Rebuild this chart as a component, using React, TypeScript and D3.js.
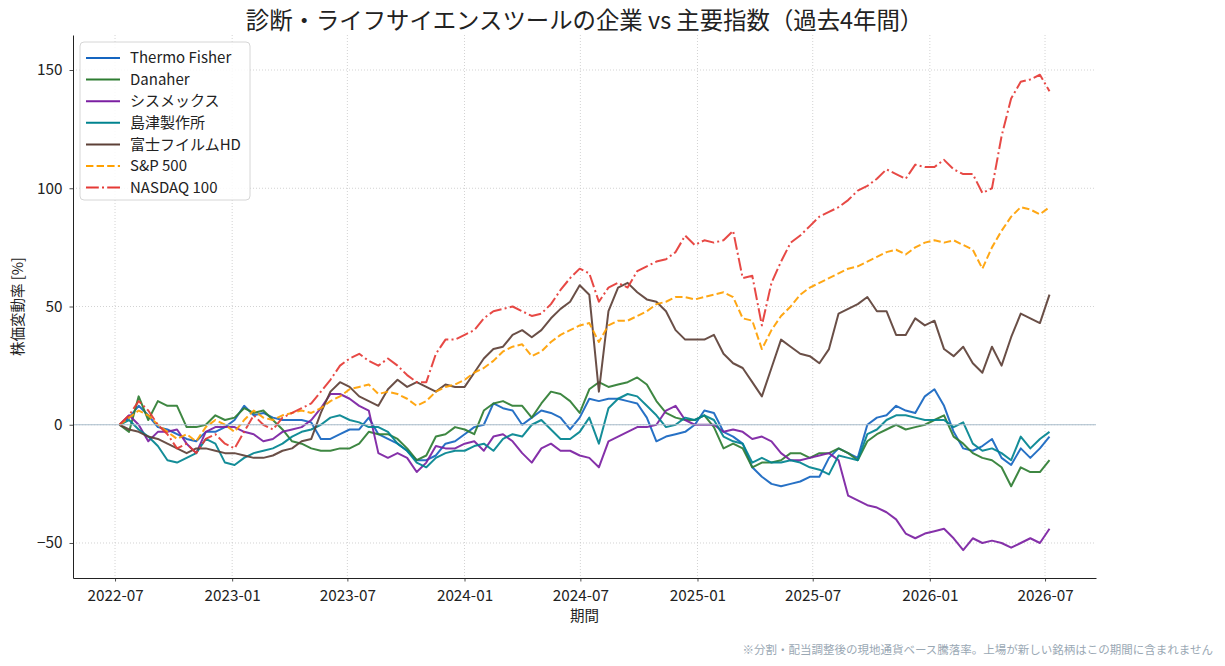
import React, { useEffect, useRef } from 'react';
import * as d3 from 'd3';

// sampled about every 15 days, 2022-07-08 .. 2026-07-08 (98 points)
const startDate = new Date(2022, 6, 8);
const endDate = new Date(2026, 6, 8);

const thermo = [0, 3, 8, 4, -1, -2, -4, -6, -7, -3, -3, -1, 2, 8, 4, 5, 3, 2, 2, 2, 1, -6, -6, -4, -2, -2, 3, -4, -6, -8, -11, -15, -15, -13, -8, -7, -4, -1, 0, 9, 7, 6, 0, 3, 6, 5, 3, -2, 3, 11, 10, 11, 11, 10, 9, 3, -7, -5, -4, -3, 0, 6, 5, -3, -5, -8, -18, -22, -25, -26, -25, -24, -22, -22, -14, -10, -12, -14, 0, 3, 4, 8, 6, 5, 12, 15, 8, -3, -10, -11, -9, -6, -14, -17, -10, -14, -10, -5];
const danaher = [0, -3, 12, 2, 10, 8, 8, -1, -1, 0, 4, 2, 3, 7, 5, 6, 2, -2, -7, -8, -10, -11, -11, -10, -10, -8, -3, -4, -4, -6, -10, -15, -13, -5, -4, -1, -2, -4, 6, 9, 10, 8, 8, 3, 9, 14, 13, 10, 5, 15, 18, 16, 17, 18, 20, 17, 10, 5, 3, 2, 2, 4, -1, -10, -8, -10, -18, -16, -16, -15, -12, -12, -14, -12, -12, -10, -12, -15, -7, -4, -2, 0, -2, -1, 0, 2, 4, -5, -8, -12, -14, -15, -18, -26, -18, -20, -20, -15];
const sysmex = [0, 4, 0, -7, -3, -3, -2, -8, -12, -3, -1, -1, -1, -3, -4, -7, -6, -3, -2, -1, 2, 7, 13, 13, 11, 8, 6, -12, -14, -12, -14, -20, -16, -9, -10, -10, -8, -7, -11, -5, -4, -7, -12, -16, -10, -8, -11, -11, -13, -14, -18, -7, -5, -3, -1, -1, 0, 6, 8, 2, 0, 0, 0, -3, -2, -3, -6, -5, -7, -12, -15, -15, -14, -13, -12, -15, -30, -32, -34, -35, -37, -40, -46, -48, -46, -45, -44, -48, -53, -48, -50, -49, -50, -52, -50, -48, -50, -44];
const shimadzu = [0, 2, -2, -5, -9, -15, -16, -14, -12, -6, -8, -16, -17, -14, -12, -11, -10, -8, -5, -3, -2, 0, 3, 4, 2, 1, -1, -1, -3, -8, -11, -16, -18, -14, -12, -11, -11, -9, -8, -11, -6, -4, -5, 0, 2, -2, -6, -6, -3, 3, -8, 7, 11, 13, 12, 8, 4, -1, 0, 3, 2, 4, 2, -5, -7, -8, -16, -14, -16, -16, -15, -16, -18, -19, -21, -13, -14, -15, -4, -2, 2, 4, 4, 3, 2, 2, 2, -1, 1, -8, -11, -10, -12, -15, -5, -10, -6, -3];
const fujifilm = [0, -2, -3, -5, -6, -8, -10, -12, -10, -10, -11, -12, -12, -13, -14, -14, -13, -11, -10, -7, -6, 5, 14, 18, 16, 12, 10, 8, 15, 19, 16, 18, 16, 14, 17, 16, 16, 22, 28, 32, 33, 38, 40, 37, 40, 45, 49, 52, 59, 55, 14, 48, 58, 60, 56, 53, 52, 48, 40, 36, 36, 36, 38, 30, 26, 24, 18, 12, 24, 36, 33, 30, 29, 26, 32, 47, 49, 51, 54, 48, 48, 38, 38, 45, 42, 44, 32, 29, 33, 26, 22, 33, 25, 37, 47, 45, 43, 55];
const sp500 = [0, 3, 6, 4, 0, -3, -6, -4, -7, -1, 2, 0, -3, 2, 6, 3, 2, 4, 5, 6, 5, 7, 10, 12, 15, 16, 17, 13, 14, 13, 11, 8, 10, 14, 16, 17, 19, 22, 24, 27, 31, 33, 34, 29, 31, 35, 38, 40, 42, 43, 35, 42, 44, 44, 46, 48, 51, 52, 54, 54, 53, 54, 55, 56, 54, 45, 44, 32, 40, 46, 50, 55, 58, 60, 62, 64, 66, 67, 69, 71, 73, 74, 72, 75, 77, 78, 77, 78, 76, 74, 66, 75, 82, 88, 92, 91, 89, 92];
const nasdaq = [0, 4, 10, 6, 0, -4, -10, -8, -12, -6, -4, -8, -10, -3, 4, 0, -2, 3, 5, 7, 9, 14, 19, 25, 28, 30, 27, 25, 28, 25, 21, 18, 18, 30, 36, 36, 38, 40, 45, 48, 49, 50, 48, 46, 47, 51, 57, 62, 66, 64, 52, 58, 60, 58, 65, 67, 69, 70, 73, 80, 76, 78, 77, 78, 82, 62, 63, 42, 60, 69, 77, 80, 84, 88, 90, 92, 95, 99, 101, 104, 108, 106, 104, 110, 109, 109, 112, 108, 106, 106, 98, 100, 122, 138, 145, 146, 148, 141];

const seriesNames = ['Thermo Fisher', 'Danaher', 'シスメックス', '島津製作所', '富士フイルムHD', 'S&P 500', 'NASDAQ 100'];
const seriesValues = [thermo, danaher, sysmex, shimadzu, fujifilm, sp500, nasdaq];
const seriesColors = ['#1565c0', '#2e7d32', '#7b1fa2', '#00838f', '#5d4037', '#ffa000', '#e53935'];
const seriesDash = [null, null, null, null, null, '7.4,3.2', '12.8,3.2,2,3.2'];

const yTicks = [-50, 0, 50, 100, 150];
const yLimits = [-64.8, 164.8];

const FONT = '"Noto Sans CJK JP", "Noto Sans", sans-serif';

function App() {
  const ref = useRef(null);

  useEffect(() => {
    document.body.style.margin = '0';
    const width = 1225, height = 666;
    const margin = { top: 35, right: 129, bottom: 88, left: 73 };

    const svg = d3.select(ref.current);
    svg.selectAll('*').remove();

    const n = thermo.length;
    const stepMs = (endDate.getTime() - startDate.getTime()) / (n - 1);
    const dates = d3.range(n).map(i => new Date(startDate.getTime() + i * stepMs));

    // matplotlib-like 5% padding
    const span = endDate.getTime() - startDate.getTime();
    const x = d3.scaleTime()
      .domain([new Date(startDate.getTime() - span * 0.05), new Date(endDate.getTime() + span * 0.05)])
      .range([margin.left, width - margin.right]);
    const y = d3.scaleLinear()
      .domain(yLimits)
      .range([height - margin.bottom, margin.top]);

    const xTicks = d3.timeMonth.every(6).range(new Date(2022, 6, 1), new Date(2026, 7, 1));

    // grid
    const grid = svg.append('g');
    grid.selectAll('.gx').data(xTicks).join('line')
      .attr('x1', d => x(d)).attr('x2', d => x(d))
      .attr('y1', margin.top).attr('y2', height - margin.bottom)
      .attr('stroke', '#c8c8c8').attr('stroke-width', 0.8).attr('stroke-dasharray', '1,2');
    grid.selectAll('.gy').data(yTicks).join('line')
      .attr('x1', margin.left).attr('x2', width - margin.right)
      .attr('y1', d => y(d)).attr('y2', d => y(d))
      .attr('stroke', '#c8c8c8').attr('stroke-width', 0.8).attr('stroke-dasharray', '1,2');

    const line = d3.line()
      .x((d, i) => x(dates[i]))
      .y(d => y(d));

    svg.append('g').selectAll('path')
      .data(seriesValues)
      .join('path')
        .attr('d', d => line(d))
        .attr('fill', 'none')
        .attr('stroke', (d, i) => seriesColors[i])
        .attr('stroke-width', 2)
        .attr('stroke-opacity', 0.92)
        .attr('stroke-linejoin', 'round')
        .attr('stroke-dasharray', (d, i) => seriesDash[i]);

    // zero line
    svg.append('line')
      .attr('x1', margin.left).attr('x2', width - margin.right)
      .attr('y1', y(0)).attr('y2', y(0))
      .attr('stroke', '#a9bccb').attr('stroke-width', 1.2);

    // axes
    const xAxis = svg.append('g')
      .attr('transform', `translate(0,${height - margin.bottom})`)
      .call(d3.axisBottom(x).tickValues(xTicks).tickFormat(d3.timeFormat('%Y-%m')).tickSize(3.5).tickSizeOuter(0).tickPadding(9));
    const yAxis = svg.append('g')
      .attr('transform', `translate(${margin.left},0)`)
      .call(d3.axisLeft(y).tickValues(yTicks).tickFormat(d => d < 0 ? '−' + Math.abs(d) : String(d)).tickSize(3.5).tickSizeOuter(0).tickPadding(7));
    [xAxis, yAxis].forEach(a => {
      a.selectAll('text').attr('font-family', FONT).attr('font-size', 15.3).attr('fill', '#222');
      a.selectAll('line').attr('stroke', '#222').attr('stroke-width', 0.8);
      a.select('.domain').attr('stroke', '#222').attr('stroke-width', 1);
    });

    // title and labels
    svg.append('text')
      .attr('x', (margin.left + width - margin.right) / 2).attr('y', 29)
      .attr('text-anchor', 'middle')
      .attr('font-family', FONT).attr('font-size', 23.4).attr('fill', '#222')
      .text('診断・ライフサイエンスツールの企業 vs 主要指数（過去4年間）');
    svg.append('text')
      .attr('x', (margin.left + width - margin.right) / 2).attr('y', 621)
      .attr('text-anchor', 'middle')
      .attr('font-family', FONT).attr('font-size', 14.5).attr('fill', '#222')
      .text('期間');
    svg.append('text')
      .attr('transform', `translate(18,${(margin.top + height - margin.bottom) / 2}) rotate(-90)`)
      .attr('text-anchor', 'middle').attr('dy', '0.35em')
      .attr('font-family', FONT).attr('font-size', 14.5).attr('fill', '#222')
      .text('株価変動率 [%]');
    svg.append('text')
      .attr('x', 1213).attr('y', 654)
      .attr('text-anchor', 'end')
      .attr('font-family', FONT).attr('font-size', 11.5).attr('fill', '#9aa8b4')
      .text('※分割・配当調整後の現地通貨ベース騰落率。上場が新しい銘柄はこの期間に含まれません');

    // legend
    const lg = svg.append('g').attr('transform', 'translate(80,42)');
    lg.append('rect')
      .attr('width', 170).attr('height', 158).attr('rx', 4)
      .attr('fill', 'white').attr('fill-opacity', 0.85)
      .attr('stroke', '#d6d6d6').attr('stroke-width', 1);
    const item = lg.selectAll('.item').data(seriesNames).join('g')
      .attr('transform', (d, i) => `translate(0,${16 + i * 21.6})`);
    item.append('line')
      .attr('x1', 6).attr('x2', 40)
      .attr('stroke', (d, i) => seriesColors[i]).attr('stroke-width', 2)
      .attr('stroke-dasharray', (d, i) => seriesDash[i]);
    item.append('text')
      .attr('x', 50).attr('dy', '0.35em')
      .attr('font-family', FONT).attr('font-size', 15).attr('fill', '#222')
      .text(d => d);
  }, []);

  return (
    <div>
      <svg ref={ref} width={1225} height={666} style={{ display: 'block', background: 'white' }} />
    </div>
  );
}

export default App;
